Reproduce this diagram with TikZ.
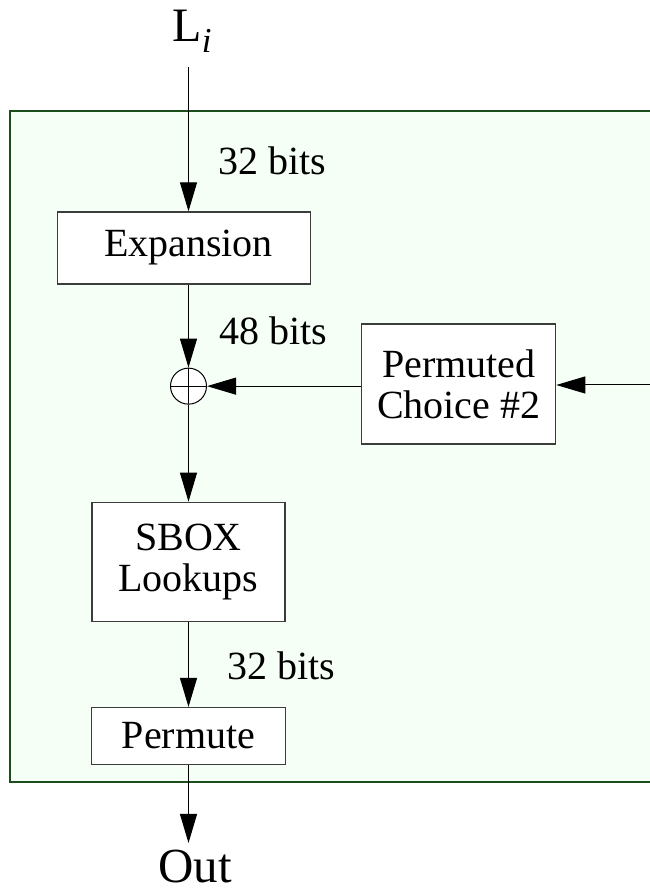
\documentclass[tikz,border=0pt]{standalone}
\usepackage{fontspec}
\setmainfont{Liberation Serif}
\usepackage{tikz}
\usetikzlibrary{arrows.meta,positioning,calc}
\definecolor{roundfill}{RGB}{245, 255, 245}
\definecolor{roundedge}{RGB}{28, 78, 28}
\definecolor{boxedge}{RGB}{60, 60, 60}
\newcommand{\lblfont}{\fontsize{40}{41}\selectfont}
\newcommand{\bigfont}{\fontsize{48}{50}\selectfont}

\begin{document}
\begin{tikzpicture}[
    x=1pt, y=1pt,
    every node/.style={align=center},
    block/.style={rectangle, draw=boxedge, fill=white, line width=1.3pt, inner sep=0pt, font=\lblfont},
    xorop/.style={circle, draw=black, fill=white, line width=1pt, minimum size=36pt, inner sep=0pt,
        path picture={\draw[line width=1pt] (path picture bounding box.north) -- (path picture bounding box.south)
            (path picture bounding box.west) -- (path picture bounding box.east);}},
    bits/.style={anchor=base west, inner sep=0pt, font=\lblfont},
    arrow/.style={line width=1pt, -{Triangle[length=29pt,width=17pt]}}
]
\useasboundingbox (0,0) rectangle (650,891);

% Round function frame (open to the right)
\fill[roundfill] (10,109) rectangle (650,780);
\draw[roundedge, line width=2pt] (651,780) -- (10,780) -- (10,109) -- (651,109);

% Data path
\node[anchor=base, inner sep=0pt, font=\bigfont] (li) at (192,849) {L\raisebox{-11pt}{\fontsize{35}{35}\selectfont\itshape i}};
\node[block, minimum width=253pt, minimum height=72pt] (expansion) at (184,643) {\hspace*{9pt}Expansion};
\node[xorop, below=83pt of expansion, xshift=4.5pt] (xor) {};
\node[block, minimum width=194pt, minimum height=120pt, right=154pt of xor, yshift=2pt] (pc) {Permuted\\Choice \#2};
\node[block, minimum width=193pt, minimum height=119pt, below=97pt of xor] (sbox) {SBOX\\Lookups};
\node[block, minimum width=194pt, minimum height=57pt, below=85pt of sbox] (permute) {Permute};
\node[anchor=base, inner sep=0pt, font=\fontsize{49}{50}\selectfont] (out) at (195,9) {Out};
\coordinate (keyin) at (651,506);
\coordinate (listart) at (188.5,824);
\coordinate (outend) at (188.5,48);

% Connections
\draw[arrow] (listart) -- (listart |- expansion.north);
\draw[arrow] (expansion.south -| xor) -- (xor.north);
\draw[arrow] (keyin) -- (keyin -| pc.east);
\draw[arrow] (pc.west |- xor) -- (xor.east);
\draw[arrow] (xor.south) -- (sbox.north -| xor);
\draw[arrow] (sbox.south -| xor) -- (permute.north -| xor);
\draw[arrow] (permute.south -| outend) -- (outend);

% Width labels
\node[bits] (bits32a) at (218,716) {32 bits};
\node[bits] (bits48) at (219,546) {48 bits};
\node[bits] (bits32b) at (227,211) {32 bits};

\end{tikzpicture}
\end{document}
